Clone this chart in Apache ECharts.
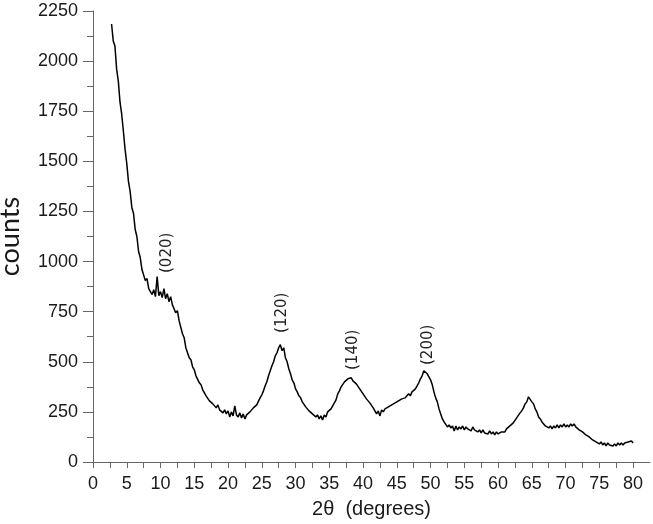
<!DOCTYPE html>
<html>
<head>
<meta charset="utf-8">
<script src="https://cdn.jsdelivr.net/npm/echarts@6/dist/echarts.min.js"></script>
<style>
html,body{margin:0;padding:0;background:#fff;}
#chart{width:653px;height:524px;}
</style>
</head>
<body>
<div id="chart"></div>
<script>
// 2θ grid of the scan (degrees): first angle and step
const twoThetaStart = 2.75;
const twoThetaStep = 0.25;

// counts, one value per 0.25°, 2.75° .. 80.00°
const counts = [
  2185,
  2100, 2075, 1960, 1900,
  1795, 1735, 1650, 1560,
  1490, 1400, 1350, 1270,
  1240, 1160, 1125, 1050,
  1020, 960, 955, 905,
  915, 865, 870, 835,
  860, 825, 925, 830,
  850, 820, 865, 815,
  840, 800, 825, 785,
  790, 745, 755, 705,
  700, 640, 620, 570,
  565, 520, 510, 475,
  460, 430, 425, 395,
  385, 360, 355, 330,
  335, 305, 310, 290,
  295, 270, 285, 260,
  265, 245, 260, 240,
  255, 225, 250, 230,
  280, 235, 225, 245,
  220, 240, 215, 235,
  240, 250, 245, 270,
  265, 285, 290, 320,
  335, 355, 380, 400,
  430, 455, 480, 500,
  530, 545, 570, 585,
  555, 570, 520, 500,
  465, 440, 410, 395,
  365, 350, 330, 320,
  300, 295, 275, 275,
  255, 260, 240, 245,
  225, 235, 215, 230,
  210, 235, 225, 250,
  245, 265, 270, 295,
  310, 340, 355, 375,
  380, 400, 395, 415,
  410, 420, 405, 410,
  390, 385, 365, 360,
  340, 335, 315, 310,
  295, 290, 270, 265,
  240, 255, 230, 260,
  250, 265, 260, 275,
  270, 285, 280, 295,
  290, 305, 300, 315,
  310, 320, 325, 340,
  330, 350, 355, 365,
  380, 395, 415, 430,
  455, 460, 440, 445,
  410, 385, 350, 320,
  300, 265, 240, 215,
  200, 195, 175, 185,
  170, 180, 155, 180,
  160, 175, 165, 180,
  160, 175, 165, 170,
  155, 175, 160, 165,
  150, 160, 145, 160,
  145, 150, 140, 155,
  140, 150, 135, 150,
  140, 145, 150, 155,
  150, 165, 165, 180,
  180, 195, 200, 220,
  225, 245, 255, 270,
  290, 300, 325, 320,
  300, 290, 265, 250,
  225, 215, 200, 195,
  180, 185, 170, 180,
  165, 180, 170, 185,
  170, 185, 175, 190,
  175, 185, 175, 190,
  180, 190, 175, 180,
  160, 165, 150, 150,
  135, 140, 125, 125,
  110, 115, 100, 105,
  90, 100, 85, 95,
  80, 95, 85, 90,
  80, 90, 80, 95,
  85, 95, 85, 95,
  90, 100, 95, 105,
  95
];

// peak annotations: Miller indices, 2θ position and the count where the label starts
const peakLabels = ['(020)', '(120)', '(140)', '(200)'];
const peakTwoTheta = [11.0, 27.95, 38.5, 49.6];
const peakLabelCounts = [943, 644, 459, 484];

// axis settings
const xMin = 0, xMax = 82.5, xStep = 2.5, xLabelEvery = 5, xLastLabel = 80;
const yMin = 0, yMax = 2250, yStep = 250;

const seriesData = counts.map((c, i) => [twoThetaStart + i * twoThetaStep, c]);

const chart = echarts.init(document.getElementById('chart'), null, {renderer: 'canvas'});
const axisColor = '#666';
const textColor = '#1a1a1a';

chart.setOption({
  animation: false,
  backgroundColor: '#fff',
  grid: {left: 93, right: 3, top: 11, bottom: 62, containLabel: false, outerBoundsMode: 'none'},
  xAxis: {
    type: 'value',
    min: xMin, max: xMax, interval: xStep,
    name: '2θ  (degrees)',
    nameLocation: 'middle',
    nameGap: 37,
    nameTextStyle: {fontFamily: 'Liberation Sans', fontSize: 20, color: textColor},
    axisLine: {show: true, onZero: false, lineStyle: {color: axisColor, width: 1}},
    axisTick: {show: true, length: 6, inside: false, lineStyle: {color: axisColor}},
    splitLine: {show: false},
    axisLabel: {
      fontFamily: 'Liberation Sans', fontSize: 18, color: textColor, margin: 13,
      showMaxLabel: false,
      formatter: v => (Math.abs(v / xLabelEvery - Math.round(v / xLabelEvery)) < 1e-6 && v <= xLastLabel) ? String(v) : ''
    }
  },
  yAxis: {
    type: 'value',
    min: yMin, max: yMax, interval: yStep,
    name: 'counts',
    nameLocation: 'middle',
    nameGap: 69,
    nameTextStyle: {fontFamily: 'Lato', fontSize: 27, color: textColor},
    axisLine: {show: true, onZero: false, lineStyle: {color: axisColor, width: 1}},
    axisTick: {show: true, length: 10, lineStyle: {color: axisColor}},
    minorTick: {show: true, splitNumber: 2, length: 6, lineStyle: {color: axisColor}},
    splitLine: {show: false},
    minorSplitLine: {show: false},
    axisLabel: {fontFamily: 'Liberation Sans', fontSize: 18, color: textColor, margin: 15, formatter: v => String(v)}
  },
  series: [{
    type: 'line',
    data: seriesData,
    showSymbol: false,
    symbol: 'none',
    lineStyle: {color: '#000', width: 1.5},
    markPoint: {
      symbol: 'circle',
      symbolSize: 0,
      silent: true,
      label: {
        show: true,
        position: 'inside',
        rotate: 90,
        align: 'left',
        verticalAlign: 'middle',
        fontFamily: 'DejaVu Sans',
        fontSize: 15,
        color: '#222',
        formatter: p => p.name
      },
      data: peakLabels.map((n, i) => ({name: n, coord: [peakTwoTheta[i], peakLabelCounts[i]]}))
    }
  }]
});
</script>
</body>
</html>
